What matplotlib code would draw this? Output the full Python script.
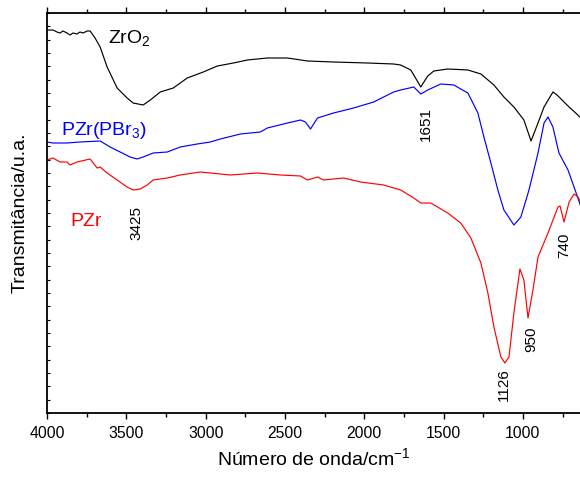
import numpy as np
import matplotlib
matplotlib.use("Agg")
import matplotlib.pyplot as plt

plt.rcParams['font.family'] = ['Liberation Sans', 'DejaVu Sans']
plt.rcParams['mathtext.fontset'] = 'custom'
plt.rcParams['mathtext.rm'] = 'Liberation Sans'
plt.rcParams['mathtext.it'] = 'Liberation Sans:italic'

# ZrO2 (black)
wn_zro2 = [4000, 3962, 3937, 3918, 3899, 3874, 3855, 3836, 3811, 3792, 3773, 3747, 3728,
           3697, 3665, 3621, 3558, 3495, 3457, 3394, 3349, 3286, 3204, 3116, 3015, 2926,
           2825, 2737, 2611, 2484, 2358, 2194, 1979, 1815, 1771, 1707, 1688, 1644, 1600,
           1562, 1474, 1347, 1265, 1183, 1120, 1057, 994, 949, 905, 867, 811, 785, 722, 634]
t_zro2 = [95.75, 95.75, 95.25, 95.0, 95.5, 95.0, 94.5, 95.0, 94.75, 95.25, 95.0, 95.5, 95.5,
          93.75, 91.5, 86.5, 81.25, 78.75, 77.5, 77.0, 78.25, 80.25, 81.25, 83.75, 85.25, 86.75,
          87.5, 88.25, 88.75, 88.75, 88.0, 87.75, 87.5, 87.25, 87.0, 85.75, 84.5, 81.5, 84.25,
          85.5, 86.0, 85.75, 84.75, 82.0, 79.0, 76.5, 73.25, 68.0, 72.5, 76.5, 80.25, 79.5,
          77.0, 73.75]

# PZr(PBr3) (blue)
wn_pbr3 = [4000, 3962, 3874, 3792, 3665, 3602, 3539, 3476, 3432, 3394, 3331, 3242, 3160,
           3053, 2971, 2907, 2781, 2655, 2611, 2484, 2402, 2371, 2339, 2295, 2194, 2067,
           1941, 1815, 1771, 1688, 1644, 1600, 1518, 1436, 1347, 1284, 1246, 1202, 1158,
           1120, 1057, 1013, 962, 905, 867, 842, 811, 773, 716, 678, 634]
t_pbr3 = [67.75, 67.5, 67.5, 67.75, 68.0, 66.5, 65.25, 64.0, 63.5, 64.0, 65.0, 65.25, 66.5,
          67.25, 67.75, 68.5, 69.75, 70.25, 71.25, 72.5, 73.25, 72.75, 71.0, 73.75, 75.0,
          76.25, 77.75, 80.25, 80.75, 81.5, 79.75, 80.75, 82.25, 82.0, 80.0, 75.0, 69.0,
          62.5, 55.75, 50.75, 47.0, 49.0, 55.75, 65.0, 72.5, 74.0, 71.5, 65.0, 60.75, 56.5, 51.5]

# PZr (red)
wn_pzr = [4000, 3962, 3918, 3874, 3855, 3811, 3728, 3684, 3665, 3621, 3558, 3495, 3457,
          3413, 3368, 3331, 3242, 3160, 3034, 2844, 2674, 2528, 2402, 2358, 2295, 2257,
          2131, 2023, 1878, 1771, 1688, 1644, 1581, 1474, 1392, 1328, 1265, 1221, 1183,
          1139, 1114, 1088, 1057, 1019, 994, 968, 937, 905, 842, 779, 766, 741, 709, 678,
          653, 634]
t_pzr = [63.25, 63.75, 62.75, 62.75, 62.0, 62.75, 63.5, 61.25, 61.5, 60.0, 58.25, 56.5, 55.75,
         56.0, 57.0, 58.25, 58.75, 59.5, 60.25, 59.5, 60.0, 59.5, 59.25, 58.25, 59.0, 58.25,
         58.75, 57.75, 57.0, 55.75, 53.75, 52.5, 52.5, 50.0, 47.5, 43.75, 37.5, 30.0, 21.5,
         14.0, 12.5, 14.0, 25.0, 36.0, 33.25, 23.75, 30.75, 39.0, 45.0, 51.5, 51.75, 47.75,
         52.75, 54.75, 54.0, 52.5]

x_ticks = [4000, 3500, 3000, 2500, 2000, 1500, 1000]
peak_labels = ["3425", "1651", "1126", "950", "740"]
peak_pos = [(3438, 47.5), (1613, 72.25), (1120, 7.0), (949, 18.5), (741, 42.0)]

fig = plt.figure(figsize=(5.8, 4.78), dpi=100)
ax = fig.add_axes([47/580, 65/478, 1 - 47/580 + 0.002, 400/478])

lw = 0.85
ax.plot(wn_zro2, t_zro2, color='black', lw=lw)
ax.plot(wn_pbr3, t_pbr3, color='#0000ff', lw=lw)
ax.plot(wn_pzr, t_pzr, color='#ff0000', lw=lw)

ax.set_xlim(4000, 633)
ax.set_ylim(0, 100)

ax.text(3615, 92.5, r'ZrO$_\mathregular{2}$', fontsize=14, color='black', ha='left', va='baseline')
ax.text(3912, 69.5, r'PZr(PBr$_\mathregular{3}$)', fontsize=14, color='#0000ff', ha='left', va='baseline')
ax.text(3855, 46.75, 'PZr', fontsize=14, color='#ff0000', ha='left', va='baseline')

for lab, (px, py) in zip(peak_labels, peak_pos):
    ax.text(px, py, lab, rotation=90, fontsize=11, ha='center', va='center', color='black')

ax.set_xticks(x_ticks)
ax.set_xticklabels([str(v) for v in x_ticks], fontsize=11.3)
ax.set_xticks(np.arange(4000, 600, -250), minor=True)
ax.set_yticks(np.arange(0, 100.01, 100/30))
ax.set_yticklabels([])
ax.tick_params(axis='x', which='major', direction='out', length=4.5, width=1.0, pad=5, top=True)
ax.tick_params(axis='x', which='minor', direction='out', length=3, width=1.0, top=True)
ax.tick_params(axis='y', which='major', direction='in', length=2.5, width=0.8)

for s in ['left', 'bottom', 'top']:
    ax.spines[s].set_linewidth(1.3)
ax.spines['right'].set_visible(False)

ax.set_xlabel(r'Número de onda/cm$^\mathregular{-1}$', fontsize=14, labelpad=4)
ax.set_ylabel('Transmitância/u.a.', fontsize=14, labelpad=10)

fig.savefig('out.png', dpi=100)
